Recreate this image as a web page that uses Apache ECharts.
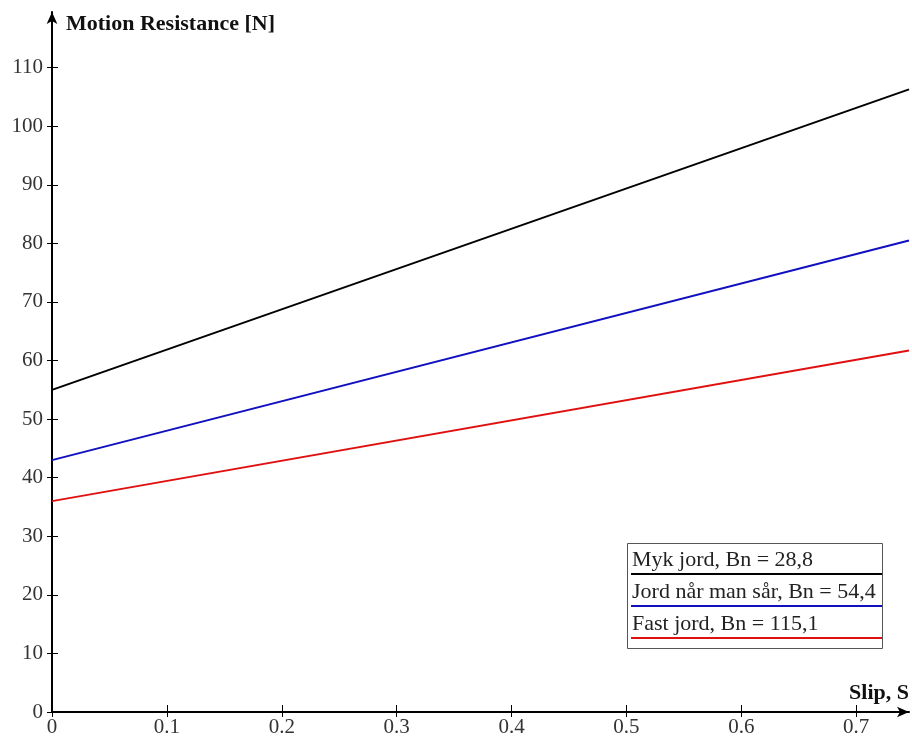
<!DOCTYPE html>
<html>
<head>
<meta charset="utf-8">
<script src="https://cdn.jsdelivr.net/npm/echarts@6/dist/echarts.min.js"></script>
<style>
  html, body { margin: 0; padding: 0; background: #fff; }
  #chart { width: 912px; height: 738px; }
</style>
</head>
<body>
<div id="chart"></div>
<script>
// slip values (x) at the two ends of each straight line
const slip = [0, 0.746];
const mykJord = [55, 106.3];
const jordSaar = [43, 80.5];
const fastJord = [36, 61.7];

const seriesNames = ['Myk jord, Bn = 28,8', 'Jord når man sår, Bn = 54,4', 'Fast jord, Bn = 115,1'];
const seriesColors = ['#000000', '#1010c0', '#e01010'];

const xTicks = [0, 0.1, 0.2, 0.3, 0.4, 0.5, 0.6, 0.7];
const yTicks = [0, 10, 20, 30, 40, 50, 60, 70, 80, 90, 100, 110];

const font = '"Liberation Serif", "DejaVu Serif", serif';

const chart = echarts.init(document.getElementById('chart'));

const toPairs = (ys) => slip.map((x, i) => [x, ys[i]]);

// legend box drawn as graphic: text with a coloured line under each row
const legendGraphic = [
  {
    type: 'rect',
    left: 627, top: 543,
    shape: { width: 255, height: 105 },
    style: { fill: '#fff', stroke: '#555', lineWidth: 1 },
    z: 10
  }
];
seriesNames.forEach((name, i) => {
  legendGraphic.push({
    type: 'text',
    left: 632, top: 549 + i * 32,
    style: { text: name, font: '22px ' + font, fill: '#222' },
    z: 11
  });
  legendGraphic.push({
    type: 'line',
    shape: { x1: 631, y1: 574 + i * 32, x2: 882, y2: 574 + i * 32 },
    style: { stroke: seriesColors[i], lineWidth: 2 },
    z: 11
  });
});

const option = {
  animation: false,
  backgroundColor: '#fff',
  grid: { left: 52, right: 2, top: 12, bottom: 25, containLabel: false },
  xAxis: [
    {
      type: 'value',
      min: 0,
      max: 0.746,
      name: 'Slip, S',
      nameLocation: 'end',
      nameGap: 0,
      nameTextStyle: {
        fontFamily: font, fontWeight: 'bold', fontSize: 22, color: '#111',
        align: 'right', verticalAlign: 'bottom', padding: [0, 0, 8, 0]
      },
      splitLine: { show: false },
      axisLine: {
        show: true,
        lineStyle: { color: '#000', width: 2 },
        symbol: ['none', 'arrow'],
        symbolSize: [8, 12]
      },
      axisTick: { show: true, length: 5, lineStyle: { color: '#000' }, customValues: xTicks },
      axisLabel: {
        fontFamily: font, fontSize: 21, color: '#333', margin: 5,
        customValues: xTicks,
        formatter: (v) => String(v)
      }
    },
    {
      // inner half of the ticks that cross the axis
      type: 'value',
      min: 0,
      max: 0.746,
      position: 'bottom',
      axisLine: { show: false },
      splitLine: { show: false },
      axisTick: { show: true, inside: true, length: 7, lineStyle: { color: '#000' }, customValues: xTicks },
      axisLabel: { show: false }
    }
  ],
  yAxis: [
    {
      type: 'value',
      min: 0,
      max: 119.5,
      name: 'Motion Resistance [N]',
      nameLocation: 'end',
      nameGap: -12,
      nameTextStyle: {
        fontFamily: font, fontWeight: 'bold', fontSize: 22, color: '#111',
        align: 'left', verticalAlign: 'middle', padding: [0, 0, 0, 14]
      },
      splitLine: { show: false },
      axisLine: {
        show: true,
        lineStyle: { color: '#000', width: 2 },
        symbol: ['none', 'arrow'],
        symbolSize: [8, 12]
      },
      axisTick: { show: true, length: 5, lineStyle: { color: '#000' }, customValues: yTicks },
      axisLabel: {
        fontFamily: font, fontSize: 21, color: '#333', margin: 9,
        customValues: yTicks
      }
    },
    {
      type: 'value',
      min: 0,
      max: 119.5,
      position: 'left',
      axisLine: { show: false },
      splitLine: { show: false },
      axisTick: { show: true, inside: true, length: 6, lineStyle: { color: '#000' }, customValues: yTicks },
      axisLabel: { show: false }
    }
  ],
  graphic: legendGraphic,
  series: [
    {
      name: seriesNames[0],
      type: 'line',
      data: toPairs(mykJord),
      symbol: 'none',
      lineStyle: { color: seriesColors[0], width: 2 }
    },
    {
      name: seriesNames[1],
      type: 'line',
      data: toPairs(jordSaar),
      symbol: 'none',
      lineStyle: { color: seriesColors[1], width: 2 }
    },
    {
      name: seriesNames[2],
      type: 'line',
      data: toPairs(fastJord),
      symbol: 'none',
      lineStyle: { color: seriesColors[2], width: 2 }
    }
  ]
};

chart.setOption(option);
</script>
</body>
</html>
